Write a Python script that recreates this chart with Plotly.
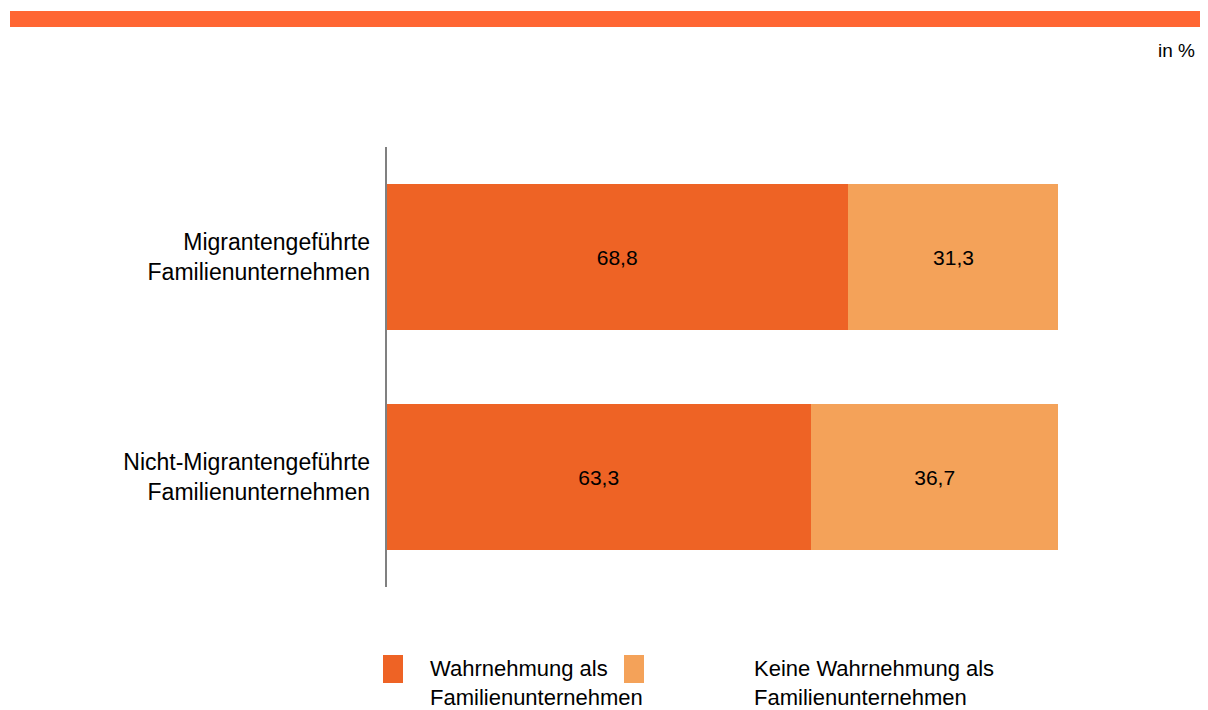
import plotly.graph_objects as go

categories = ["Migrantengeführte<br>Familienunternehmen", "Nicht-Migrantengeführte<br>Familienunternehmen"]
series_names = ["Wahrnehmung als<br>Familienunternehmen", "Keine Wahrnehmung als<br>Familienunternehmen"]
values_yes = [68.8, 63.3]
values_no = [31.3, 36.7]
colors = ["#EE6325", "#F4A259"]

FONT = "Liberation Sans, Arial, sans-serif"
W, H = 1200, 702
L, R, T, B = 378, 150, 139, 123
pw, ph = W - L - R, H - T - B
OFF = 8  # page body margin


def px_x(x):  # screen x -> paper
    return (x - OFF - L) / pw


def px_y(y):  # screen y -> paper
    return (H - B - (y - OFF)) / ph


fig = go.Figure()
for name, vals, col in zip(series_names, [values_yes, values_no], colors):
    fig.add_trace(go.Bar(
        y=categories, x=vals, orientation="h", name=name,
        marker=dict(color=col, line=dict(width=0)),
        text=vals, texttemplate="%{x:.1f}", textposition="inside",
        insidetextanchor="middle",
        textfont=dict(family=FONT, size=21, color="#000000"),
        showlegend=False,
    ))

shapes = [
    dict(type="rect", xref="paper", yref="paper", x0=px_x(10), x1=px_x(1210), y0=px_y(27), y1=px_y(11),
         fillcolor="#FF6633", line=dict(width=0), layer="above"),
    dict(type="line", xref="paper", yref="paper", x0=0, x1=0, y0=0, y1=1,
         line=dict(color="#808080", width=2)),
]
annotations = [
    dict(text="in %", xref="paper", yref="paper", x=px_x(1197), y=px_y(51), xanchor="right", yanchor="middle",
         showarrow=False, font=dict(family=FONT, size=19, color="#000000")),
]
leg_x = [383, 624]
leg_tx = [429, 753]
for i, (name, col) in enumerate(zip(series_names, colors)):
    x0 = leg_x[i]
    shapes.append(dict(type="rect", xref="paper", yref="paper", x0=px_x(x0), x1=px_x(x0 + 20),
                       y0=px_y(683), y1=px_y(655), fillcolor=col, line=dict(width=0)))
    annotations.append(dict(text=name, xref="paper", yref="paper", x=px_x(leg_tx[i]), y=px_y(655),
                            xanchor="left", yanchor="top", align="left", showarrow=False, borderpad=0,
                            font=dict(family=FONT, size=22, color="#000000")))

fig.update_layout(
    width=W, height=H, barmode="stack", bargap=0.332,
    margin=dict(l=L, r=R, t=T, b=B),
    paper_bgcolor="white", plot_bgcolor="white",
    separators=",.",
    font=dict(family=FONT, size=22, color="#000000"),
    xaxis=dict(range=[0, 100], visible=False, fixedrange=True),
    yaxis=dict(autorange="reversed", showgrid=False, zeroline=False, showline=False, ticks="",
               ticklabelstandoff=15, tickfont=dict(family=FONT, size=23, color="#000000")),
    shapes=shapes, annotations=annotations,
)
fig.write_html("out.html")
